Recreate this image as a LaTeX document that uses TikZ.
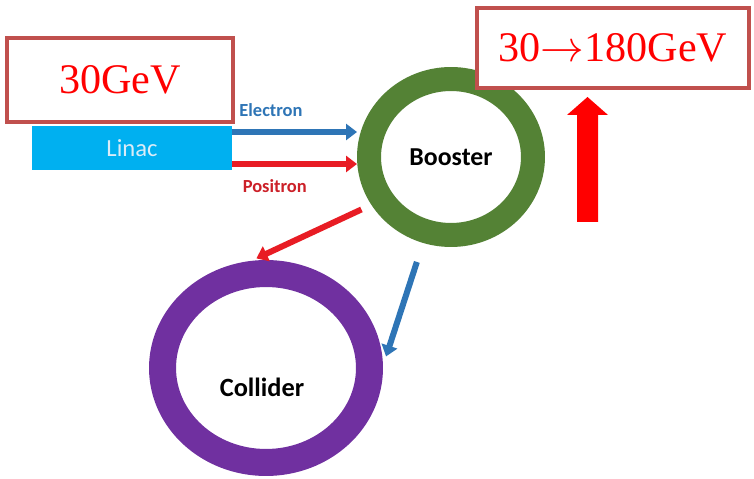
\documentclass[tikz,border=0pt]{standalone}
\usepackage{fontspec}
\setmainfont{Liberation Serif}
\newfontfamily\calibri{Carlito}
\usetikzlibrary{arrows.meta,positioning,shapes.geometric}
\definecolor{framered}{RGB}{192,80,77}
\definecolor{linacblue}{RGB}{0,176,240}
\definecolor{elblue}{RGB}{46,117,182}
\definecolor{posred}{RGB}{232,28,36}
\definecolor{boostergreen}{RGB}{84,130,53}
\definecolor{colliderpurple}{RGB}{112,48,160}
\tikzset{
    energybox/.style={draw=framered, line width=0.08cm, fill=white, text=red, align=center, font=\fontsize{24}{28}\selectfont},
    linacbox/.style={fill=linacblue, minimum width=4cm, minimum height=0.88cm, text={rgb,255:red,218;green,236;blue,248}, font=\calibri\fontsize{14}{16}\selectfont},
    ring/.style={ellipse, draw, inner sep=0pt},
    ringlabel/.style={font=\calibri\bfseries\fontsize{14.7}{16}\selectfont},
    beamlabel/.style={font=\calibri\bfseries\fontsize{10.5}{12}\selectfont},
    elarrow/.style={-{Triangle[length=0.22cm, width=0.32cm]}, line width=0.12cm, elblue},
    posarrow/.style={-{Triangle[length=0.22cm, width=0.32cm]}, line width=0.12cm, posred}
}
\begin{document}
\begin{tikzpicture}[x=0.02cm, y=-0.02cm]
    \useasboundingbox[fill=white] (0,0) rectangle (754,479);
    \node[linacbox] (linac) at (132,148) {Linac};
    \node[ring, draw=boostergreen, line width=0.48cm, minimum width=3.28cm, minimum height=3.12cm, ringlabel] (booster) at (451,157) {Booster};
    \node[ring, draw=colliderpurple, line width=0.54cm, minimum width=4.14cm, minimum height=3.78cm,
        label={[ringlabel, font=\calibri\bfseries\fontsize{15}{17}\selectfont, yshift=-0.38cm, xshift=-0.08cm]center:Collider}] (collider) at (266,368) {};
    \node[energybox, minimum width=4.52cm, minimum height=1.68cm] (low) at (120,80) {30GeV};
    \node[energybox, minimum width=5.46cm, minimum height=1.6cm] (high) at (613,48) {30\(\rightarrow\)180GeV};

    \draw[elarrow] ([yshift=0.32cm]linac.east) -- ([yshift=0.32cm]linac.east -| booster.west) node[pos=0.31, yshift=0.44cm, beamlabel, text=elblue] {Electron};
    \draw[posarrow] ([yshift=-0.32cm]linac.east) -- ([yshift=-0.32cm]linac.east -| booster.west) node[pos=0.34, yshift=-0.44cm, beamlabel, text={rgb,255:red,204;green,32;blue,40}] {Positron};
    \draw[posarrow, shorten <=0.22cm, shorten >=0.12cm] (booster.211) -- (collider.98);
    \draw[elarrow, shorten <=0.4cm, shorten >=0.2cm] (booster.252) -- (collider.1);

    \fill[red] (577,222) -- (577,115) -- (567,115) -- (587.5,97) -- (608,115) -- (598,115) -- (598,222) -- cycle;
\end{tikzpicture}
\end{document}
